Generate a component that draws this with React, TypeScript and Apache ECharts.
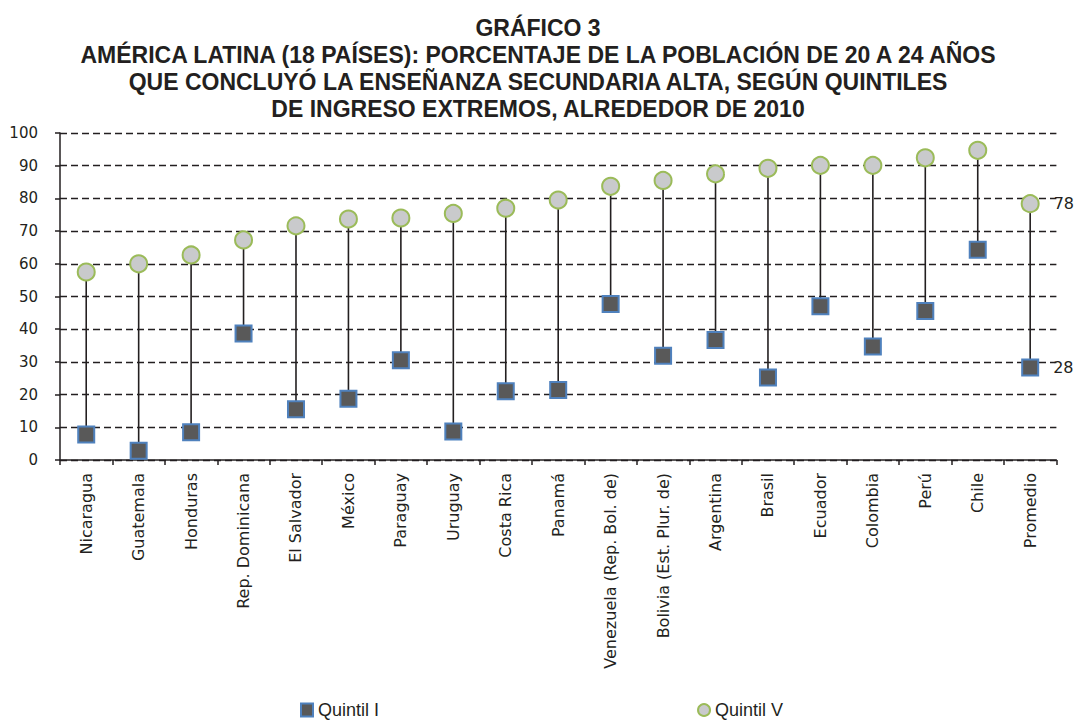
import React, { useEffect, useRef } from "react";
import * as echarts from "echarts";

const categories = [
  "Nicaragua",
  "Guatemala",
  "Honduras",
  "Rep. Dominicana",
  "El Salvador",
  "México",
  "Paraguay",
  "Uruguay",
  "Costa Rica",
  "Panamá",
  "Venezuela (Rep. Bol. de)",
  "Bolivia (Est. Plur. de)",
  "Argentina",
  "Brasil",
  "Ecuador",
  "Colombia",
  "Perú",
  "Chile",
  "Promedio",
];

const quintilI = [7.8, 2.8, 8.5, 38.7, 15.5, 18.7, 30.5, 8.7, 21.0, 21.4, 47.7, 31.9, 36.7, 25.2, 47.0, 34.7, 45.6, 64.3, 28.3];
const quintilV = [57.5, 60.0, 62.7, 67.3, 71.6, 73.7, 74.0, 75.4, 77.0, 79.5, 83.7, 85.5, 87.5, 89.2, 90.1, 90.1, 92.4, 94.7, 78.4];

const yTicks = { min: 0, max: 100, interval: 10 };

const titleLines = [
  "GRÁFICO 3",
  "AMÉRICA LATINA (18 PAÍSES): PORCENTAJE DE LA POBLACIÓN DE 20 A 24 AÑOS",
  "QUE CONCLUYÓ LA ENSEÑANZA SECUNDARIA ALTA, SEGÚN QUINTILES",
  "DE INGRESO EXTREMOS, ALREDEDOR DE 2010",
];

const TEXT = "#231f20";
const AXIS_FONT = "'DejaVu Sans', sans-serif";

export default function App() {
  const ref = useRef<HTMLDivElement>(null);

  useEffect(() => {
    document.body.style.margin = "0";
    if (!ref.current) return;
    const chart = echarts.init(ref.current, undefined, { renderer: "svg" });
    const last = categories.length - 1;
    const endLabel = {
      show: true,
      position: "right",
      distance: 14,
      color: TEXT,
      fontSize: 16,
      fontFamily: AXIS_FONT,
      formatter: (p: any) => String(Math.round(p.value)),
    };

    chart.setOption({
      animation: false,
      backgroundColor: "#ffffff",
      title: {
        text: titleLines.join("\n"),
        left: "center",
        top: 9,
        textStyle: {
          fontFamily: "'Liberation Sans', Arial, sans-serif",
          fontWeight: "bold",
          fontSize: 23,
          lineHeight: 27,
          color: TEXT,
        },
      },
      legend: {
        left: 300,
        top: 701,
        padding: 0,
        itemGap: 318,
        itemWidth: 12,
        itemHeight: 13,
        textStyle: {
          fontFamily: "'Liberation Sans', Arial, sans-serif",
          fontSize: 18,
          lineHeight: 18,
          color: TEXT,
        },
        data: [
          { name: "Quintil I", icon: "rect" },
          { name: "Quintil V", icon: "circle" },
        ],
      },
      grid: { left: 60, right: 19.6, top: 133, bottom: 261 },
      xAxis: {
        type: "category",
        data: categories,
        boundaryGap: true,
        axisLine: { lineStyle: { color: TEXT, width: 1.5 } },
        axisTick: { show: true, length: 5, lineStyle: { color: TEXT, width: 1.5 } },
        axisLabel: {
          rotate: 90,
          interval: 0,
          margin: 13,
          color: TEXT,
          fontSize: 16,
          fontFamily: AXIS_FONT,
        },
        splitLine: { show: false },
      },
      yAxis: {
        type: "value",
        min: yTicks.min,
        max: yTicks.max,
        interval: yTicks.interval,
        axisLine: { show: true, lineStyle: { color: TEXT, width: 1.5 } },
        axisTick: { show: true, length: 5, lineStyle: { color: TEXT, width: 1.5 } },
        axisLabel: {
          margin: 22,
          color: TEXT,
          fontSize: 15,
          fontFamily: AXIS_FONT,
        },
        splitLine: {
          show: true,
          lineStyle: { color: TEXT, width: 1.3, type: [7, 4] },
        },
      },
      series: [
        {
          type: "custom",
          name: "rango",
          silent: true,
          encode: { x: 0, y: [1, 2] },
          data: categories.map((_, i) => [i, quintilI[i], quintilV[i]]),
          renderItem: (_params: any, api: any) => {
            const i = api.value(0);
            const p1 = api.coord([i, api.value(1)]);
            const p2 = api.coord([i, api.value(2)]);
            return {
              type: "line",
              shape: { x1: p1[0], y1: p1[1], x2: p2[0], y2: p2[1] },
              style: { stroke: TEXT, lineWidth: 1.6 },
            };
          },
          z: 2,
        },
        {
          type: "scatter",
          name: "Quintil I",
          symbol: "rect",
          symbolSize: 16,
          itemStyle: { color: "#595959", borderColor: "#4f81bd", borderWidth: 2, opacity: 1 },
          data: quintilI.map((v, i) => (i === last ? { value: v, label: endLabel } : v)),
          z: 3,
        },
        {
          type: "scatter",
          name: "Quintil V",
          symbol: "circle",
          symbolSize: 17,
          itemStyle: { color: "#c9cacc", borderColor: "#9bbb59", borderWidth: 2, opacity: 1 },
          data: quintilV.map((v, i) => (i === last ? { value: v, label: endLabel } : v)),
          z: 3,
        },
      ],
    });

    return () => chart.dispose();
  }, []);

  return <div ref={ref} style={{ width: 1076, height: 721 }} />;
}
